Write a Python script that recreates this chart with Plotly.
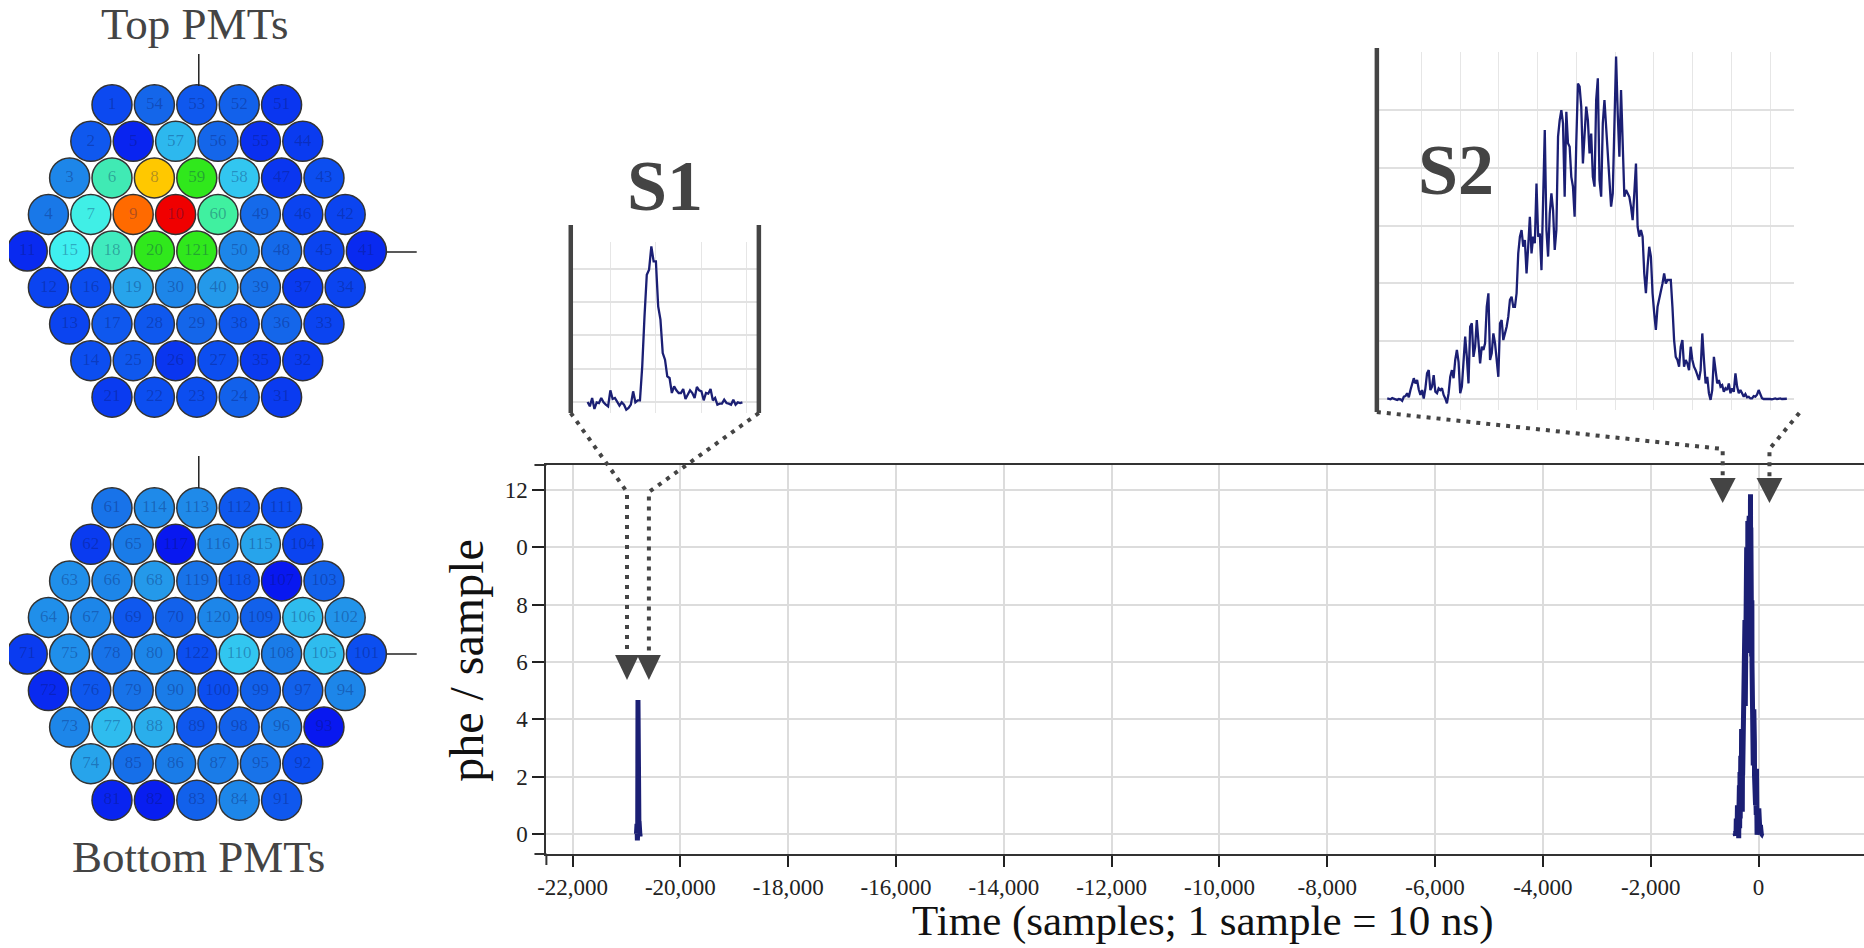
import plotly.graph_objects as go

W, H = 1864, 948

# ---------------- data ----------------
# PMT labels (hexagonal arrays, row by row, top to bottom)
top_rows = [
    [1, 54, 53, 52, 51],
    [2, 5, 57, 56, 55, 44],
    [3, 6, 8, 59, 58, 47, 43],
    [4, 7, 9, 10, 60, 49, 46, 42],
    [11, 15, 18, 20, 121, 50, 48, 45, 41],
    [12, 16, 19, 30, 40, 39, 37, 34],
    [13, 17, 28, 29, 38, 36, 33],
    [14, 25, 26, 27, 35, 32],
    [21, 22, 23, 24, 31],
]
# relative signal per PMT (0..1)
top_signal = [
    [0.09, 0.15, 0.12, 0.14, 0.05],
    [0.12, 0.02, 0.32, 0.15, 0.04, 0.06],
    [0.22, 0.48, 0.80, 0.60, 0.35, 0.05, 0.10],
    [0.19, 0.43, 0.90, 1.00, 0.52, 0.16, 0.08, 0.08],
    [0.03, 0.42, 0.47, 0.60, 0.60, 0.22, 0.16, 0.08, 0.03],
    [0.08, 0.10, 0.28, 0.22, 0.26, 0.18, 0.06, 0.08],
    [0.08, 0.12, 0.12, 0.15, 0.12, 0.15, 0.08],
    [0.10, 0.12, 0.05, 0.10, 0.06, 0.06],
    [0.06, 0.10, 0.10, 0.14, 0.06],
]
bottom_rows = [
    [61, 114, 113, 112, 111],
    [62, 65, 117, 116, 115, 104],
    [63, 66, 68, 119, 118, 107, 103],
    [64, 67, 69, 70, 120, 109, 106, 102],
    [71, 75, 78, 80, 122, 110, 108, 105, 101],
    [72, 76, 79, 90, 100, 99, 97, 94],
    [73, 77, 88, 89, 98, 96, 93],
    [74, 85, 86, 87, 95, 92],
    [81, 82, 83, 84, 91],
]
bottom_signal = [
    [0.18, 0.23, 0.23, 0.12, 0.10],
    [0.06, 0.20, 0.00, 0.23, 0.28, 0.08],
    [0.24, 0.22, 0.26, 0.18, 0.12, 0.00, 0.14],
    [0.24, 0.22, 0.12, 0.14, 0.22, 0.14, 0.33, 0.25],
    [0.06, 0.24, 0.18, 0.22, 0.10, 0.35, 0.20, 0.33, 0.10],
    [0.03, 0.12, 0.18, 0.20, 0.10, 0.14, 0.14, 0.22],
    [0.22, 0.33, 0.30, 0.12, 0.14, 0.20, 0.00],
    [0.28, 0.17, 0.20, 0.20, 0.18, 0.10],
    [0.02, 0.01, 0.14, 0.22, 0.12],
]

# S1 waveform (phe/sample), one value per sample
s1_start = -20815
s1_values = [
    0.00, -0.13, 0.12, -0.21, -0.01, -0.03, 0.12, -0.01, -0.08, -0.13,
    0.35, 0.09, 0.12, -0.01, -0.11, -0.01, -0.08, -0.23, -0.18, -0.08,
    0.32, -0.01, 0.05, 0.05, 1.07, 2.57, 3.82, 3.97, 4.67, 4.22,
    4.22, 2.87, 2.47, 1.47, 1.27, 0.77, 0.72, 0.27, 0.47, 0.35,
    0.27, 0.27, 0.39, 0.09, 0.22, 0.35, 0.27, 0.12, 0.45, 0.35,
    0.32, 0.05, 0.27, 0.25, 0.39, 0.05, 0.12, -0.08, -0.05, -0.05,
    0.07, -0.03, -0.05, -0.08, 0.07, -0.08, -0.01, -0.03, -0.01,
]

# S2 waveform (phe/sample)
s2_start = -444.1
s2_step = 2.14
s2_values = [
    0.02, 0.00, -0.01, 0.03, 0.02, -0.01, -0.03, 0.00, -0.01, -0.06,
    0.08, 0.10, 0.20, 0.06, 0.31, 0.54, 0.72, 0.54, 0.66, 0.33,
    0.14, 0.31, 0.02, 0.37, 0.89, 1.00, 0.31, 0.43, 0.83, 0.25,
    0.20, 0.37, 0.31, 0.37, 0.14, 0.02, -0.15, 0.20, 0.77, 1.00,
    0.72, 1.35, 1.70, 1.29, 0.20, 0.43, 1.29, 2.16, 1.46, 0.54,
    2.50, 2.62, 1.46, 1.81, 2.73, 2.04, 1.23, 1.81, 1.70, 1.93,
    3.19, 3.66, 1.35, 1.58, 2.27, 1.93, 1.35, 0.77, 2.62, 2.73,
    2.04, 2.27, 2.50, 2.85, 3.43, 3.54, 3.19, 3.19, 3.66, 5.04,
    5.62, 5.85, 5.27, 5.50, 4.35, 5.27, 6.31, 5.04, 5.62, 5.39,
    7.46, 5.62, 5.73, 4.46, 7.23, 9.31, 5.85, 4.93, 6.42, 7.12,
    6.54, 5.16, 5.85, 9.08, 9.65, 10.00, 9.54, 7.00, 9.94, 8.85,
    8.73, 7.69, 7.35, 6.31, 8.85, 10.92, 10.81, 10.12, 8.15, 8.96,
    10.12, 9.65, 8.50, 9.19, 7.69, 7.35, 10.35, 11.10, 7.58, 7.00,
    9.54, 10.35, 9.42, 8.85, 7.81, 6.66, 7.12, 9.19, 11.85, 9.88,
    8.39, 10.69, 8.39, 7.00, 7.23, 7.12, 7.00, 6.66, 6.19, 7.12,
    8.15, 5.96, 5.62, 5.85, 5.62, 4.35, 3.66, 4.58, 5.27, 4.93,
    3.66, 2.97, 2.39, 3.19, 3.43, 3.66, 4.00, 4.35, 4.00, 4.12,
    4.12, 4.12, 3.19, 2.04, 1.46, 1.35, 1.12, 1.81, 2.04, 1.12,
    1.35, 1.23, 1.00, 1.81, 1.35, 1.12, 1.00, 0.83, 0.66, 1.00,
    2.27, 1.35, 0.54, 0.77, 0.20, -0.03, 0.31, 1.46, 1.00, 0.54,
    0.66, 0.43, 0.48, 0.25, 0.37, 0.31, 0.54, 0.20, 0.37, 0.25,
    0.89, 0.43, 0.20, 0.31, 0.20, 0.08, 0.17, 0.06, 0.08, 0.02,
    0.02, 0.10, 0.08, 0.15, 0.31, 0.13, 0.03, 0.00, 0.00, 0.02,
    0.02, 0.00, -0.01, 0.01, 0.02, 0.00, 0.01, 0.02, 0.00, 0.01,
    0.01, 0.01,
]

x_tick_vals = [-22000, -20000, -18000, -16000, -14000, -12000, -10000,
               -8000, -6000, -4000, -2000, 0]
x_tick_text = ["-22,000", "-20,000", "-18,000", "-16,000", "-14,000", "-12,000",
               "-10,000", "-8,000", "-6,000", "-4,000", "-2,000", "0"]
y_tick_vals = [0, 2, 4, 6, 8, 10, 12]
y_tick_text = ["0", "2", "4", "6", "8", "0", "12"]

# ---------------- style ----------------
NAVY = "#1b1f74"
DARK = "#444444"
SERIF = "Liberation Serif"
GRID = "#dcdcdc"
PMT_SCALE = [
    [0.00, "#0818f0"], [0.05, "#0a36f0"], [0.10, "#0c4ef0"], [0.15, "#1466ea"],
    [0.20, "#1a7ce8"], [0.25, "#2294ea"], [0.30, "#2aaeec"], [0.35, "#32c6f0"],
    [0.42, "#40f0f0"], [0.48, "#40eab4"], [0.52, "#40f0a0"], [0.60, "#30e81c"],
    [0.80, "#ffc800"], [0.90, "#ff6a00"], [1.00, "#f00000"],
]
PITCH = 42.6
ARR_X = 188.7


def dom_x(a, b):
    return [a / W, b / W]


def dom_y(top, bottom):
    return [1 - bottom / H, 1 - top / H]


s1_t = [s1_start + i for i in range(len(s1_values))]
s2_t = [s2_start + s2_step * i for i in range(len(s2_values))]

fig = go.Figure()

# main waveform
for tt, vv in ((s1_t, s1_values), (s2_t, s2_values)):
    fig.add_trace(go.Scatter(x=tt, y=vv, mode="lines", xaxis="x", yaxis="y",
                             line=dict(color=NAVY, width=5),
                             showlegend=False, hoverinfo="skip"))
# insets
fig.add_trace(go.Scatter(x=s1_t, y=s1_values, mode="lines", xaxis="x2", yaxis="y2",
                         line=dict(color=NAVY, width=2.3), showlegend=False, hoverinfo="skip"))
fig.add_trace(go.Scatter(x=s2_t, y=s2_values, mode="lines", xaxis="x3", yaxis="y3",
                         line=dict(color=NAVY, width=2.3), showlegend=False, hoverinfo="skip"))


def hex_trace(rows, signal, cx, cy):
    xs, ys, vals, labels = [], [], [], []
    nr = len(rows)
    for r, row in enumerate(rows):
        n = len(row)
        for k, lab in enumerate(row):
            xs.append(cx + (k - (n - 1) / 2) * PITCH)
            ys.append(cy + (r - (nr - 1) / 2) * PITCH * 0.858)
            vals.append(signal[r][k])
            labels.append(str(lab))
    return go.Scatter(
        x=xs, y=ys, mode="markers+text", xaxis="x4", yaxis="y4",
        text=labels, textposition="middle center",
        textfont=dict(family=SERIF, size=17, color="rgba(10,20,90,0.33)"),
        marker=dict(size=40, color=vals, colorscale=PMT_SCALE, cmin=0, cmax=1,
                    line=dict(color="#333333", width=1.5)),
        showlegend=False, hoverinfo="skip")


fig.add_trace(hex_trace(top_rows, top_signal, ARR_X, 251))
fig.add_trace(hex_trace(bottom_rows, bottom_signal, ARR_X, 654))

tickfont = dict(family=SERIF, size=23, color="#222222")

fig.update_layout(
    width=W, height=H, margin=dict(l=0, r=0, t=0, b=0),
    paper_bgcolor="white", plot_bgcolor="rgba(0,0,0,0)",
    showlegend=False,
    xaxis=dict(domain=dom_x(540, W), range=[-22486, 1957], anchor="y",
               tickmode="array", tickvals=x_tick_vals, ticktext=x_tick_text,
               ticks="outside", ticklen=11, tickwidth=2, tickcolor="#222",
               showgrid=True, gridcolor=GRID, gridwidth=2,
               showline=True, linecolor="#333", linewidth=2, mirror=True,
               zeroline=False, tickfont=tickfont),
    yaxis=dict(domain=dom_y(465, 854), range=[-0.70, 12.87], anchor="x",
               tickmode="array", tickvals=y_tick_vals, ticktext=y_tick_text,
               ticks="outside", ticklen=12, tickwidth=2, tickcolor="#222",
               showgrid=True, gridcolor=GRID, gridwidth=2,
               showline=True, linecolor="#333", linewidth=2,
               zeroline=False, tickfont=tickfont),
    xaxis2=dict(domain=dom_x(564, 753), range=[s1_start - 7.6, s1_start + 75.0], anchor="y2",
                tickmode="linear", tick0=s1_start + 10, dtick=20,
                showticklabels=False, ticks="",
                showgrid=True, gridcolor="#e6e6e6", gridwidth=1.2,
                showline=False, zeroline=False),
    yaxis2=dict(domain=dom_y(242, 413), range=[-0.33, 4.80], anchor="x2",
                tickmode="linear", tick0=0, dtick=1, showticklabels=False, ticks="",
                showgrid=True, gridcolor="#e2e2e2", gridwidth=1.6,
                showline=False, zeroline=False),
    xaxis3=dict(domain=dom_x(1377, 1794), range=[-454.3, 81.3], anchor="y3",
                tickmode="array", tickvals=list(range(-400, 51, 50)),
                showticklabels=False, ticks="",
                showgrid=True, gridcolor="#e6e6e6", gridwidth=1.2,
                showline=False, zeroline=False),
    yaxis3=dict(domain=dom_y(52, 410), range=[-0.38, 12.01], anchor="x3",
                tickmode="array", tickvals=[0, 2, 4, 6, 8, 10],
                showticklabels=False, ticks="",
                showgrid=True, gridcolor="#e0e0e0", gridwidth=2,
                showline=False, zeroline=False),
    xaxis4=dict(domain=[0, 1], range=[0, W], anchor="y4", visible=False, fixedrange=True),
    yaxis4=dict(domain=[0, 1], range=[H, 0], anchor="x4", visible=False, fixedrange=True),
)

shapes = []
DOT = "4px,6px"


def poly(points, **line):
    d = "M " + " L ".join(f"{x},{y}" for x, y in points)
    return dict(type="path", path=d, xref="x4", yref="y4", layer="above",
                line=dict(**line))


def tri(cx, top, w, h):
    d = f"M {cx - w / 2},{top} L {cx + w / 2},{top} L {cx},{top + h} Z"
    return dict(type="path", path=d, xref="x4", yref="y4", layer="above",
                fillcolor=DARK, line=dict(width=0))


# S1 zoom guides
shapes.append(poly([(564.5, 413), (621, 492), (621, 655)], color=DARK, width=4, dash=DOT))
shapes.append(poly([(753.5, 413), (643, 492), (643, 655)], color=DARK, width=4, dash=DOT))
shapes.append(tri(621, 655, 24, 25))
shapes.append(tri(643, 655, 24, 25))
# S2 zoom guides
shapes.append(poly([(1374.5, 412), (1722, 449), (1722, 478)], color=DARK, width=4, dash=DOT))
shapes.append(poly([(1799, 413), (1769, 449), (1769, 478)], color=DARK, width=4, dash=DOT))
shapes.append(tri(1722, 478, 26, 25))
shapes.append(tri(1769, 478, 26, 25))
# inset frame bars
shapes.append(poly([(564.5, 225), (564.5, 413)], color=DARK, width=4.5))
shapes.append(poly([(753.5, 225), (753.5, 413)], color=DARK, width=4.5))
shapes.append(poly([(1374.5, 48), (1374.5, 412)], color=DARK, width=4.5))
# main axis outer ticks
shapes.append(poly([(528, 465), (540, 465)], color="#333", width=2))
shapes.append(poly([(528, 854), (540, 854)], color="#333", width=2))
shapes.append(poly([(540, 854), (540, 865)], color="#333", width=2))
# PMT array orientation marks
shapes.append(poly([(ARR_X + 2, 54), (ARR_X + 2, 86)], color="#222", width=1.5))
shapes.append(poly([(ARR_X + 191, 252), (ARR_X + 221, 252)], color="#222", width=1.5))
shapes.append(poly([(ARR_X + 2, 456), (ARR_X + 2, 488)], color="#222", width=1.5))
shapes.append(poly([(ARR_X + 191, 654), (ARR_X + 221, 654)], color="#222", width=1.5))

annotations = [
    dict(text="Top PMTs", x=187, y=24, font=dict(family=SERIF, size=45, color=DARK)),
    dict(text="Bottom PMTs", x=190, y=857, font=dict(family=SERIF, size=45, color=DARK)),
    dict(text="<b>S1</b>", x=659, y=186, font=dict(family=SERIF, size=72, color=DARK)),
    dict(text="<b>S2</b>", x=1454, y=170, font=dict(family=SERIF, size=72, color=DARK)),
    dict(text="Time (samples; 1 sample = 10 ns)", x=1200, y=921,
         font=dict(family=SERIF, size=43, color="#111")),
    dict(text="phe / sample", x=459, y=660, textangle=-90,
         font=dict(family=SERIF, size=48, color="#111")),
]
for a in annotations:
    a.update(xref="x4", yref="y4", showarrow=False, xanchor="center", yanchor="middle")

fig.update_layout(shapes=shapes, annotations=annotations)

fig.write_html("out.html")
